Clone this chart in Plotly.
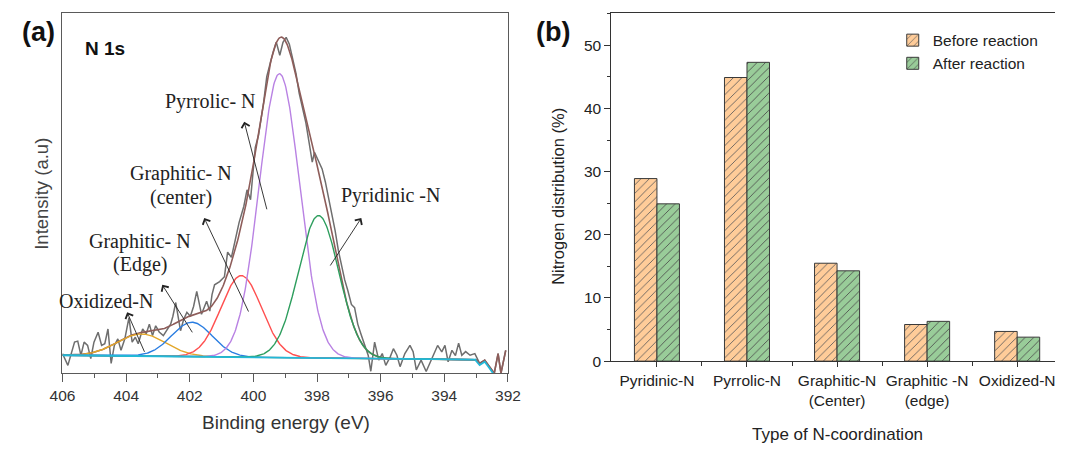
import numpy as np
import plotly.graph_objects as go

W, H = 1068, 449

# ---------------- Panel (a): N 1s XPS spectrum ----------------
# measured spectrum (binding energy in eV, intensity in arbitrary units)
RAW_EV = [406.00, 405.83, 405.62, 405.52, 405.42, 405.32, 405.21, 405.11, 405.01, 404.88,
          404.77, 404.67, 404.57, 404.47, 404.37, 404.26, 404.16, 404.04, 403.91, 403.81,
          403.71, 403.62, 403.48, 403.37, 403.27, 403.17, 403.07, 402.96, 402.83, 402.71,
          402.60, 402.53, 402.44, 402.29, 402.19, 402.09, 401.98, 401.88, 401.78, 401.63,
          401.47, 401.37, 401.30, 401.22, 401.06, 400.91, 400.81, 400.69, 400.55, 400.45,
          400.30, 400.20, 400.09, 400.01, 399.94, 399.84, 399.68, 399.58, 399.48, 399.38,
          399.28, 399.17, 399.07, 398.97, 398.87, 398.76, 398.66, 398.56, 398.46, 398.35,
          398.25, 398.15, 398.08, 397.95, 397.84, 397.74, 397.64, 397.54, 397.43, 397.33,
          397.23, 397.13, 397.03, 396.92, 396.82, 396.72, 396.62, 396.52, 396.39, 396.31,
          396.19, 396.06, 395.95, 395.84, 395.70, 395.60, 395.49, 395.39, 395.24, 395.08,
          394.98, 394.88, 394.73, 394.57, 394.36, 394.21, 394.08, 393.98, 393.88, 393.76,
          393.65, 393.55, 393.45, 393.33, 393.19, 393.04, 392.89, 392.73, 392.58, 392.43,
          392.31, 392.22, 392.07]
RAW_INT = [20.0, 8.0, 31.7, 32.7, 18.3, 31.7, 28.3, 15.0, 31.7, 41.7,
           28.3, 30.0, 45.0, 10.0, 28.3, 35.0, 23.3, 35.0, 56.7, 31.7,
           36.7, 30.0, 45.0, 40.0, 50.0, 38.3, 48.3, 42.0, 38.3, 45.0,
           50.0, 58.0, 72.0, 43.3, 55.0, 62.0, 58.0, 68.0, 83.3, 60.0,
           73.3, 63.3, 80.0, 90.0, 93.3, 98.3, 123.3, 118.0, 140.0, 153.3,
           170.0, 186.7, 176.7, 210.0, 230.0, 242.0, 275.3, 302.0, 315.3, 327.0,
           337.0, 323.7, 337.0, 342.0, 335.0, 318.7, 305.0, 285.0, 272.0, 255.0,
           235.0, 215.0, 225.0, 216.7, 208.0, 195.0, 180.0, 165.0, 145.0, 125.0,
           108.0, 95.0, 84.0, 70.0, 66.7, 50.0, 40.0, 30.0, 18.0, 2.0,
           31.7, 13.3, 20.0, 8.0, 16.7, 25.0, 18.3, 6.7, 20.0, 28.3,
           22.0, 3.3, 13.3, 1.7, 18.3, 28.3, 21.7, 28.3, 11.7, 23.3,
           18.0, 30.7, 18.3, 22.0, 18.3, 20.0, 10.0, 13.3, 6.7, 0.0,
           20.0, 0.0, 23.3]

# fitted components: centre (eV), height above background, FWHM (eV)
PEAK_NAMES = ["Oxidized-N", "Graphitic-N (edge)", "Graphitic-N (center)", "Pyrrolic-N", "Pyridinic-N"]
PEAK_CENTER = [403.52, 401.93, 400.38, 399.18, 397.95]
PEAK_HEIGHT = [22.5, 35.0, 83.0, 289.0, 145.0]
PEAK_FWHM = [1.8, 1.5, 1.5, 1.5, 1.5]
PEAK_COLOR = ["#e3a72a", "#2a7de1", "#ff5050", "#b982e3", "#2e9e5e"]

# linear background over the fitted window, and the background beyond it
BASE_EV = [406.0, 393.0]
BASE_INT = [18.3, 13.8]
TAIL_BASE_EV = [393.04, 392.89, 392.73, 392.58, 392.47]
TAIL_BASE_INT = [14.0, 8.3, 11.7, 5.0, 0.0]

# ---------------- Panel (b): nitrogen distribution ----------------
CATEGORIES = ["Pyridinic-N", "Pyrrolic-N", "Graphitic-N<br>(Center)",
              "Graphitic -N<br>(edge)", "Oxidized-N"]
BEFORE = [28.9, 44.9, 15.5, 5.8, 4.7]
AFTER = [24.9, 47.3, 14.3, 6.3, 3.8]

SANS = "Liberation Sans, Arial, sans-serif"
SERIF = "Liberation Serif, Times New Roman, serif"


def px_x(p):
    return p / W


def px_y(p):
    return 1 - p / H


fig = go.Figure()

# fitted curves evaluated on a fine energy grid
grid = np.linspace(406.0, 393.0, 651)
background = np.interp(grid, BASE_EV[::-1], BASE_INT[::-1])
components = []
for c, h, w in zip(PEAK_CENTER, PEAK_HEIGHT, PEAK_FWHM):
    s = w / (2 * np.sqrt(2 * np.log(2)))
    components.append(h * np.exp(-((grid - c) ** 2) / (2 * s ** 2)))
envelope = background + np.sum(components, axis=0)

tail_raw_ev = [e for e in RAW_EV if e < 393.0]
tail_raw_int = [v for e, v in zip(RAW_EV, RAW_INT) if e < 393.0]

fig.add_trace(go.Scatter(x=RAW_EV, y=RAW_INT, mode="lines",
                         line=dict(color="#6e6e6e", width=1.5),
                         showlegend=False, xaxis="x", yaxis="y"))
fig.add_trace(go.Scatter(x=list(grid) + tail_raw_ev, y=list(envelope) + tail_raw_int,
                         mode="lines", line=dict(color="#8e5d5a", width=1.6),
                         showlegend=False, xaxis="x", yaxis="y"))
for comp, col in zip(components, PEAK_COLOR):
    fig.add_trace(go.Scatter(x=grid, y=background + comp, mode="lines",
                             line=dict(color=col, width=1.4),
                             showlegend=False, xaxis="x", yaxis="y"))
fig.add_trace(go.Scatter(x=list(grid) + TAIL_BASE_EV, y=list(background) + TAIL_BASE_INT,
                         mode="lines", line=dict(color="#22b8d8", width=1.8),
                         showlegend=False, xaxis="x", yaxis="y"))

# grouped hatched bars
xpos = list(range(len(CATEGORIES)))
fig.add_trace(go.Bar(x=xpos, y=BEFORE, name="Before reaction",
                     marker=dict(color="#ffcc99", line=dict(color="#3a3a3a", width=1),
                                 pattern=dict(shape="/", fgcolor="#5a5a5a", bgcolor="#ffcc99",
                                              size=6, solidity=0.14, fillmode="replace")),
                     xaxis="x2", yaxis="y2"))
fig.add_trace(go.Bar(x=xpos, y=AFTER, name="After reaction",
                     marker=dict(color="#99cc99", line=dict(color="#3a3a3a", width=1),
                                 pattern=dict(shape="/", fgcolor="#4a4a4a", bgcolor="#99cc99",
                                              size=6, solidity=0.14, fillmode="replace")),
                     xaxis="x2", yaxis="y2"))

ax_a = "#5a5a5a"
ax_b = "#333333"
fig.update_layout(
    width=W, height=H,
    margin=dict(l=0, r=0, t=0, b=0),
    paper_bgcolor="white", plot_bgcolor="white",
    font=dict(family=SANS, color="#222"),
    barmode="group", bargap=0.5, bargroupgap=0.0,
    xaxis=dict(domain=[px_x(50.7), px_x(507.3)], range=[406, 392], anchor="y",
               showline=True, mirror=True, linecolor=ax_a, linewidth=1.3,
               ticks="outside", ticklen=8, tickwidth=1.2, tickcolor=ax_a,
               tickvals=[406, 404, 402, 400, 398, 396, 394, 392],
               tickfont=dict(size=15.5, color="#333"),
               minor=dict(tickvals=[405, 403, 401, 399, 397, 395, 393],
                          ticks="outside", ticklen=4, tickcolor=ax_a, tickwidth=1.1),
               showgrid=False, zeroline=False),
    yaxis=dict(domain=[px_y(380), px_y(13)], range=[0, 367], anchor="x",
               showline=True, mirror=True, linecolor=ax_a, linewidth=1.3,
               showticklabels=False, ticks="", showgrid=False, zeroline=False),
    xaxis2=dict(domain=[px_x(613.3), 1.0], range=[-0.506, 4.42], anchor="y2",
                showline=True, mirror=True, linecolor=ax_b, linewidth=1.2,
                tickmode="array", tickvals=xpos, ticktext=CATEGORIES,
                ticks="outside", ticklen=5, tickwidth=1.1, tickcolor=ax_b,
                tickfont=dict(size=15.5, color="#222"),
                minor=dict(tickvals=[0.5, 1.5, 2.5, 3.5], ticks="outside",
                           ticklen=4, tickcolor=ax_b, tickwidth=1.1),
                showgrid=False, zeroline=False),
    yaxis2=dict(domain=[px_y(367.7), px_y(13.3)], range=[0, 55.1], anchor="x2",
                showline=True, mirror=False, linecolor=ax_b, linewidth=1.2,
                tickvals=[0, 10, 20, 30, 40, 50], ticks="outside", ticklen=6,
                tickwidth=1.1, tickcolor=ax_b, tickfont=dict(size=15.5, color="#222"),
                minor=dict(dtick=5, tick0=0, ticks="outside", ticklen=3,
                           tickcolor=ax_b, tickwidth=1.1),
                showgrid=False, zeroline=False),
    legend=dict(x=px_x(901.7), y=px_y(24), xanchor="left", yanchor="top",
                font=dict(size=15.5, color="#222", family=SANS),
                bgcolor="rgba(0,0,0,0)", itemwidth=30),
)

annotations = []


def label(text, x, y, size, family=SANS, color="#222", bold=False, angle=0):
    annotations.append(dict(text=f"<b>{text}</b>" if bold else text,
                             x=px_x(x), y=px_y(y), xref="paper", yref="paper",
                             xanchor="center", yanchor="middle", showarrow=False,
                             textangle=angle, font=dict(size=size, family=family, color=color)))


def arrow(head, tail):
    annotations.append(dict(x=px_x(head[0]), y=px_y(head[1]), xref="paper", yref="paper",
                             ax=tail[0] - head[0], ay=tail[1] - head[1],
                             showarrow=True, arrowhead=4, arrowsize=1.8, arrowwidth=0.9,
                             arrowcolor="#222", text=""))


# panel letters and titles
label("(a)", 26, 33, 27, bold=True, color="#111")
label("(b)", 553, 33, 27, bold=True, color="#111")
label("N 1s", 94, 49, 19, bold=True, color="#111")
label("Binding energy (eV)", 280, 430, 19, color="#333")
label("Intensity (a.u)", 29, 197, 18.5, color="#444", angle=-90)
label("Nitrogen distribution (%)", 559, 200, 16.5, color="#222", angle=-90)
label("Type of N-coordination", 845, 442, 17, color="#222")

# peak assignments with pointer arrows
label("Pyrrolic- N", 202, 103, 20, family=SERIF)
label("Graphitic- N", 172, 177, 20, family=SERIF)
label("(center)", 172, 201, 20, family=SERIF)
label("Graphitic- N", 130, 246, 20, family=SERIF)
label("(Edge)", 130, 269, 20, family=SERIF)
label("Oxidized-N", 95, 306, 20, family=SERIF)
label("Pyridinic -N", 387, 199, 20, family=SERIF)

arrow((237, 124), (260, 213))
arrow((196, 222), (241, 317))
arrow((153, 290), (184, 339))
arrow((117, 318), (135, 359))
arrow((357, 222), (325, 271))

fig.update_layout(annotations=annotations)

fig.write_html("out.html")
